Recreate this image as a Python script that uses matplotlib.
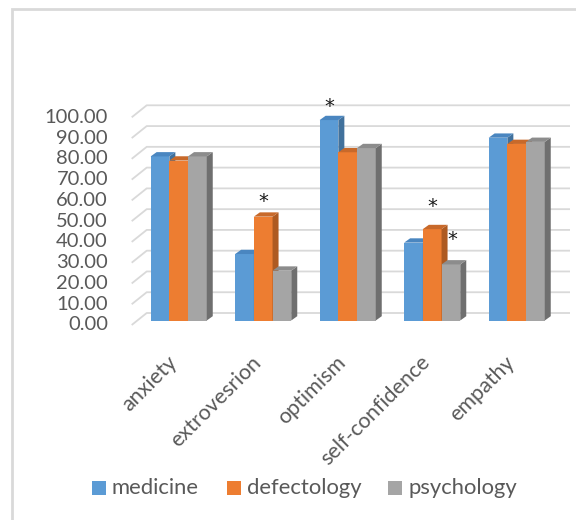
import matplotlib
matplotlib.use("Agg")
import matplotlib.pyplot as plt
from matplotlib.patches import Polygon, Rectangle
import numpy as np

plt.rcParams['font.family'] = ['Lato', 'DejaVu Sans']

categories = ["anxiety", "extrovesrion", "optimism", "self-confidence", "empathy"]
series = ["medicine", "defectology", "psychology"]
medicine = [79, 32, 96.5, 37.5, 88]
defectology = [77, 50, 81, 44, 85]
psychology = [79, 24, 83, 27, 86]
y_ticks = [0, 10, 20, 30, 40, 50, 60, 70, 80, 90, 100]
# significance marks: (category index, series index)
marks = [(1, 1), (2, 0), (3, 1), (3, 2)]

values = [medicine, defectology, psychology]
front_colors = ["#5B9BD5", "#ED7D31", "#A5A5A5"]
side_colors = ["#41719C", "#AE5A21", "#6F6F6F"]
top_colors = ["#4A86C0", "#C8692A", "#8C8C8C"]
text_color = "#595959"

W, H, DPI = 576, 520, 100
fig = plt.figure(figsize=(W / DPI, H / DPI), dpi=DPI)
ax = fig.add_axes([0, 0, 1, 1])

# pixel geometry of the plot: category pitch and value scale
cx0, pitch = 178.7, 84.5
y0, scale = 320.5, 2.077
ax.set_xlim((0 - cx0) / pitch, (W - cx0) / pitch)
ax.set_ylim((y0 - H) / scale, y0 / scale)
ax.axis("off")

px_x = 1.0 / pitch      # one pixel in category units
px_y = 1.0 / scale      # one pixel in value units

# chart frame
fig.patches.append(Rectangle((12 / W, -0.1), 1.2, 1 - 9 / H + 0.1,
                             transform=fig.transFigure, fill=False,
                             edgecolor="#D9D9D9", linewidth=2.0))

# back wall + side wall gridlines
wall_up = 7.5 * px_y
x_back = (146.7 - cx0) / pitch
x_front = (131.7 - cx0) / pitch
x_right = (570 - cx0) / pitch
side_drop = 12 * px_y
for v in y_ticks:
    yb = v + wall_up
    ax.plot([x_front, x_back, x_right], [yb - side_drop, yb, yb],
            color="#D9D9D9", linewidth=1.3, solid_capstyle="butt", zorder=1)
    ax.text((108 - cx0) / pitch, v - 4.5 * px_y, f"{v:.2f}", ha="right",
            va="center", fontsize=14.5, color=text_color)

# bars with depth faces
bw = 18.7 * px_x
dx, dy = 6 * px_x, 4.3 * px_y
z = 2
for ci in range(len(categories)):
    for si in range(len(series)):
        v = values[si][ci]
        left = ci + (si - 1.5) * bw
        right = left + bw
        ax.bar(left, v, width=bw, align="edge", color=front_colors[si],
               linewidth=0, zorder=z)
        ax.add_patch(Polygon([(right, 0), (right + dx, dy), (right + dx, v + dy),
                              (right, v)], closed=True, facecolor=side_colors[si],
                             linewidth=0, zorder=z))
        ax.add_patch(Polygon([(left, v), (left + dx, v + dy), (right + dx, v + dy),
                              (right, v)], closed=True, facecolor=top_colors[si],
                             linewidth=0, zorder=z))
        z += 1

# significance asterisks
mark_gap = {(1, 1): 7.5, (2, 0): 6.5, (3, 1): 11.0, (3, 2): 12.0}
for ci, si in marks:
    v = values[si][ci]
    xc = ci + (si - 1) * bw + (1.5 * px_x if si == 2 else 0)
    ax.text(xc, v + mark_gap[(ci, si)], "*", ha="center", va="center",
            fontsize=14, color="#1A1A1A", zorder=50, family="DejaVu Sans")

# category labels
for ci, name in enumerate(categories):
    ax.text(ci + 2 * px_x, -15.2, name, rotation=45, ha="right", va="top",
            fontsize=15.5, color=text_color)

# legend
leg_sq = [91.7, 227, 388]
leg_y = 488
for si, name in enumerate(series):
    fig.patches.append(Rectangle((leg_sq[si] / W, 1 - (leg_y + 7) / H), 14 / W, 14 / H,
                                 transform=fig.transFigure, facecolor=front_colors[si],
                                 linewidth=0))
    fig.text((leg_sq[si] + 20) / W, 1 - leg_y / H, name, ha="left", va="center",
             fontsize=15.8, color=text_color)

fig.savefig("out.png", dpi=DPI)
